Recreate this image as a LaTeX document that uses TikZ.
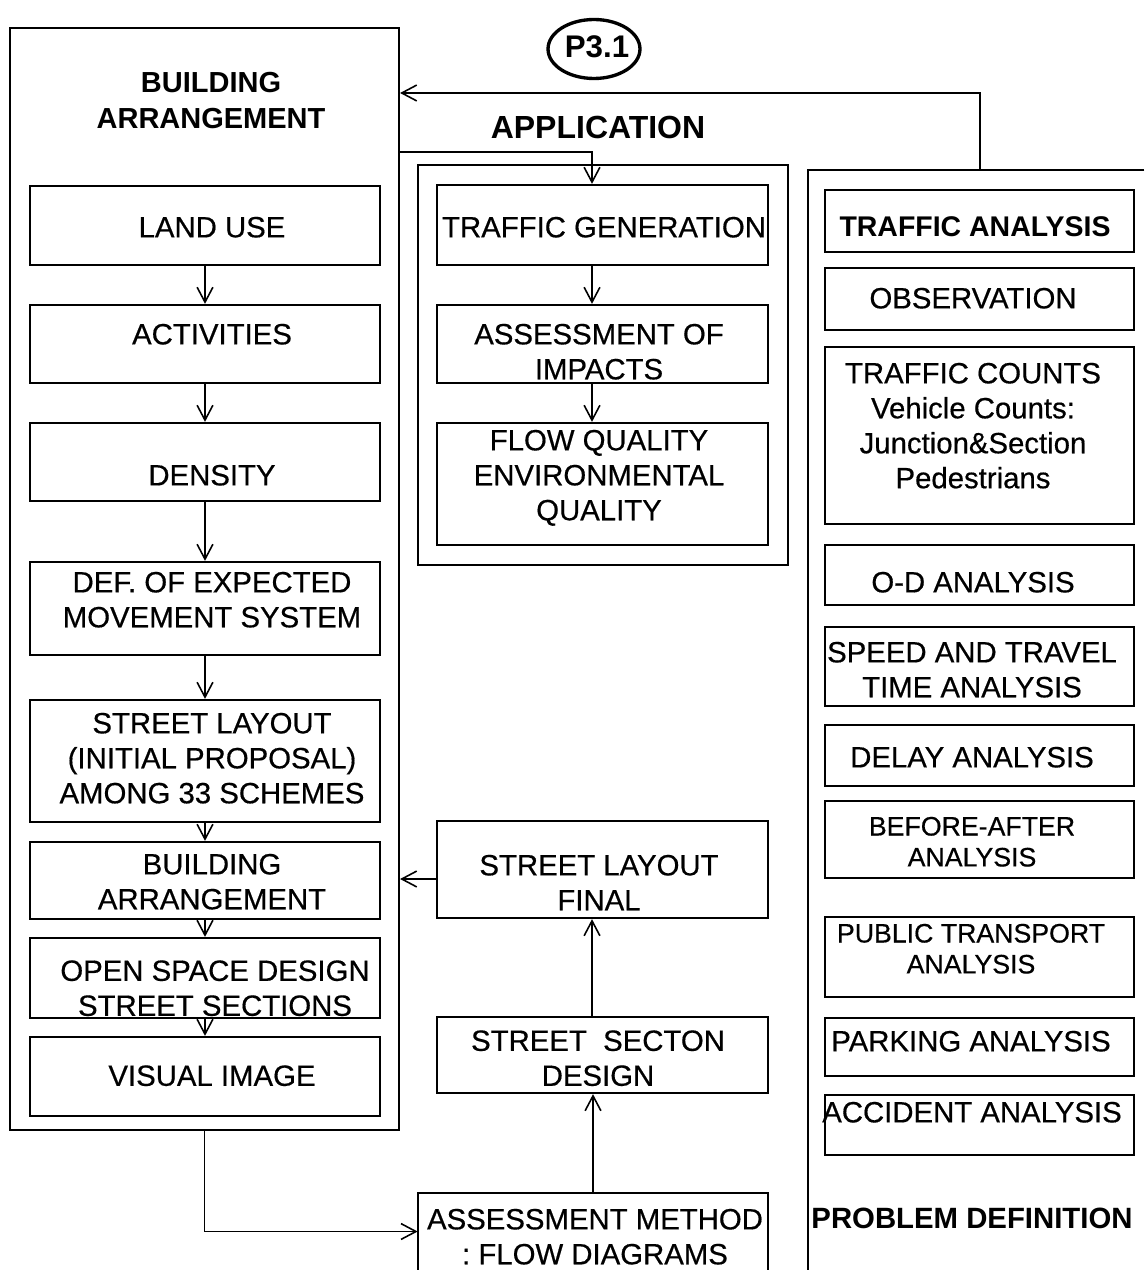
\documentclass[tikz,border=0pt]{standalone}
\usepackage{fontspec}
\setmainfont{Liberation Sans}
% box labels: Arial-width sans, set a little heavier than the plain weight
\newfontfamily\boxfont{Liberation Sans}[FakeBold=0.5]
\usetikzlibrary{arrows.meta,fit,shapes.geometric}
\begin{document}
\begin{tikzpicture}[
  x=0.02cm, y=-0.02cm,
  box/.style={draw, line width=1.3pt, inner sep=0pt, rectangle},
  frame/.style={line width=1.2pt},
  hidden/.style={inner sep=0pt, rectangle},
  lbl/.style={anchor=north, align=center, inner sep=0pt,
              font=\boxfont\fontsize{16.7}{19.9}\selectfont},
  small/.style={anchor=north, align=center, inner sep=0pt,
              font=\boxfont\fontsize{15.2}{17.6}\selectfont},
  ttl/.style={anchor=north, align=center, inner sep=0pt,
              font=\fontsize{16.5}{20.5}\selectfont\bfseries},
  arr/.style={line width=0.9pt, -{Straight Barb[length=8.5pt,width=9pt,line width=0.9pt]}},
]
\useasboundingbox[fill=white] (0,0) rectangle (1144,1270);

% ---------- left group: building arrangement ----------
\node[box, line width=1.2pt, fit={(10,28) (399,1130)}] (lbox) {};
\node[ttl] (lttl) at (211,71.5) {BUILDING\\ARRANGEMENT};

\node[box, fit={(30,186) (380,265)}]  (land) {};
\node[box, fit={(30,305) (380,383)}]  (act)  {};
\node[box, fit={(30,423) (380,501)}]  (den)  {};
\node[box, fit={(30,562) (380,655)}]  (def)  {};
\node[box, fit={(30,700) (380,822)}]  (sli)  {};
\node[box, fit={(30,842) (380,919)}]  (barr) {};
\node[box, fit={(30,938) (380,1018)}] (osd)  {};
\node[box, fit={(30,1037) (380,1116)}] (vis) {};

\node[lbl] (tland) at (212,216.5) {LAND USE};
\node[lbl] (tact)  at (212,323.5) {ACTIVITIES};
\node[lbl] (tden)  at (212,464.5) {DENSITY};
\node[lbl] (tdef)  at (212,571.5) {DEF. OF EXPECTED\\MOVEMENT SYSTEM};
\node[lbl] (tsli)  at (212,712.5) {STREET LAYOUT\\(INITIAL PROPOSAL)\\AMONG 33 SCHEMES};
\node[lbl] (tbarr) at (212,853.5) {BUILDING\\ARRANGEMENT};
\node[lbl] (tosd)  at (215,960)   {OPEN SPACE DESIGN\\STREET SECTIONS};
\node[lbl] (tvis)  at (212,1065)  {VISUAL IMAGE};

\draw[arr] (land) -- (act);
\draw[arr] (act)  -- (den);
\draw[arr] (den)  -- (def);
\draw[arr] (def)  -- (sli);
\draw[arr] (sli)  -- (barr);
\draw[arr] (barr) -- (osd);
\draw[arr] (osd)  -- (vis);

% ---------- middle group: application ----------
\node[ellipse, draw, line width=1.9pt, minimum width=1.84cm, minimum height=1.18cm,
      inner sep=0pt] (pcode) at (594,49) {};
\node[anchor=north, inner sep=0pt, font=\fontsize{17.8}{20}\selectfont\bfseries]
      (tpcode) at (597,35) {P3.1};
\node[anchor=north, inner sep=0pt, font=\fontsize{18.2}{21}\selectfont\bfseries]
      (tapp) at (598,115.5) {APPLICATION};

\node[box, line width=1.2pt, fit={(418,165) (788,565)}] (mbox) {};
\node[box, fit={(437,185) (768,265)}]  (tg)  {};
\node[box, fit={(437,305) (768,383)}]  (ai)  {};
\node[box, fit={(437,423) (768,545)}]  (fq)  {};
\node[box, fit={(437,821) (768,918)}]  (slf) {};
\node[box, fit={(437,1017) (768,1093)}] (ssd) {};
\node[hidden, fit={(418,1193) (768,1270)}] (am) {};
\draw[frame] (am.south west) -- (am.north west) -- (am.north east) -- (am.south east);

\node[lbl] (ttg)  at (604,216.5) {TRAFFIC GENERATION};
\node[lbl] (tai)  at (599,323.5) {ASSESSMENT OF\\IMPACTS};
\node[lbl] (tfq)  at (599,429.5) {FLOW QUALITY\\ENVIRONMENTAL\\QUALITY};
\node[lbl] (tslf) at (599,854.5) {STREET LAYOUT\\FINAL};
\node[lbl] (tssd) at (598,1030)  {STREET\ \ SECTON\\DESIGN};
\node[lbl] (tam)  at (595,1208.5) {ASSESSMENT METHOD\\:\ FLOW DIAGRAMS};

\draw[arr] ([xshift=-0.21cm]tg.south) -- ([xshift=-0.21cm]ai.north);
\draw[arr] ([xshift=-0.21cm]ai.south) -- ([xshift=-0.21cm]fq.north);
\draw[arr] ([xshift=-0.21cm]ssd.north) -- ([xshift=-0.21cm]slf.south);
\draw[arr] (am.north) -- (am.north |- ssd.south);
\coordinate (slfout) at ([yshift=-0.19cm]slf.west);
\draw[arr] (slfout) -- (lbox.east |- slfout);

% ---------- right group: problem definition ----------
\node[hidden, fit={(808,170) (1144,1270)}] (rbox) {};
\draw[frame] (rbox.north east) -- (rbox.north west) -- (rbox.south west);

\node[box, fit={(825,190) (1134,252)}]  (ta)   {};
\node[box, fit={(825,268) (1134,330)}]  (obs)  {};
\node[box, fit={(825,347) (1134,524)}]  (tc)   {};
\node[box, fit={(825,545) (1134,605)}]  (od)   {};
\node[box, fit={(825,627) (1134,706)}]  (spd)  {};
\node[box, fit={(825,725) (1134,786)}]  (dly)  {};
\node[box, fit={(825,801) (1134,878)}]  (bfa)  {};
\node[box, fit={(825,917) (1134,997)}]  (pta)  {};
\node[box, fit={(825,1018) (1134,1076)}] (pka) {};
\node[box, fit={(825,1095) (1134,1155)}] (aca) {};

\node[anchor=north, inner sep=0pt, font=\fontsize{16.2}{20}\selectfont\bfseries]
      (tta) at (975,216) {TRAFFIC ANALYSIS};
\node[lbl]   (tobs) at (973,287.5) {OBSERVATION};
\node[lbl]   (ttc)  at (973,362.5) {TRAFFIC COUNTS\\Vehicle Counts:\\Junction\&Section\\Pedestrians};
\node[lbl]   (tod)  at (973,571.5) {O-D ANALYSIS};
\node[lbl]   (tspd) at (972,641.5) {SPEED AND TRAVEL\\TIME ANALYSIS};
\node[lbl]   (tdly) at (972,746.5) {DELAY ANALYSIS};
\node[small] (tbfa) at (972,816.5) {BEFORE-AFTER\\ANALYSIS};
\node[small] (tpta) at (971,923.5) {PUBLIC TRANSPORT\\ANALYSIS};
\node[lbl]   (tpka) at (971,1030.5) {PARKING ANALYSIS};
\node[lbl]   (taca) at (972,1101.5) {ACCIDENT ANALYSIS};
\node[anchor=north, inner sep=0pt, font=\fontsize{16.7}{20}\selectfont\bfseries]
      (tpd) at (972,1207.5) {PROBLEM DEFINITION};

% ---------- links between the groups ----------
\coordinate (fbtop) at (980,170);
\coordinate (fblvl) at (0,93);
\coordinate (inlvl) at (0,152);
\draw[arr] (fbtop) |- (lbox.east |- fblvl);
\draw[arr] (lbox.east |- inlvl) -| ([xshift=-0.21cm]tg.north);
\draw[arr] (lbox.south) |- (am.west);
\end{tikzpicture}
\end{document}
